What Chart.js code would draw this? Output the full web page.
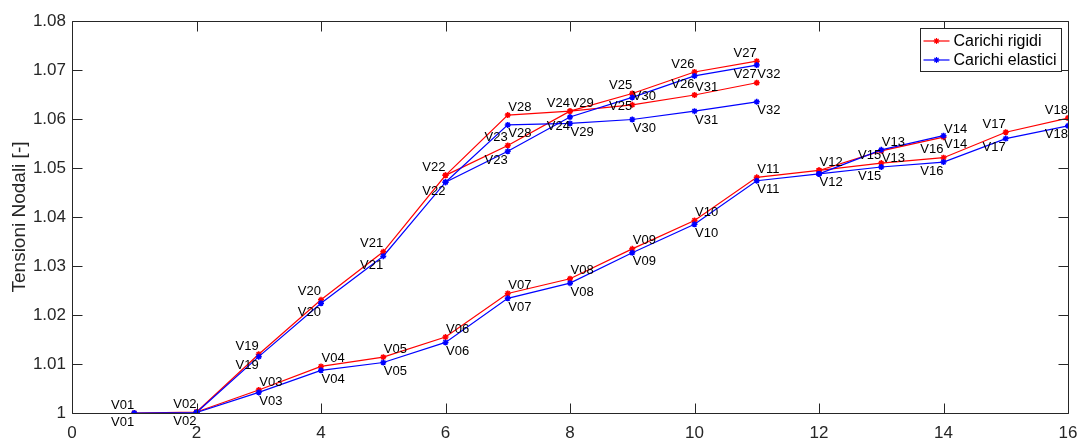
<!DOCTYPE html>
<html>
<head>
<meta charset="utf-8">
<script src="https://cdn.jsdelivr.net/npm/chart.js@4"></script>
<style>
  html, body { margin: 0; padding: 0; background: #fff; }
  canvas { display: block; }
</style>
</head>
<body>
<canvas id="tensioni" width="1079" height="439"></canvas>
<script>
// nodi della rete
var nodeNames = ['V01','V02','V03','V04','V05','V06','V07','V08','V09','V10',
                 'V11','V12','V13','V14','V15','V16','V17','V18','V19','V20',
                 'V21','V22','V23','V24','V25','V26','V27','V28','V29','V30',
                 'V31','V32'];
// posizione lungo la linea (asse x)
var nodeX = [1, 2, 3, 4, 5, 6, 7, 8, 9, 10,
             11, 12, 13, 14, 13, 14, 15, 16, 3, 4,
             5, 6, 7, 8, 9, 10, 11, 7, 8, 9,
             10, 11];
// tensioni nodali [p.u.]
var vRigidi = [1.0000, 1.0002, 1.0047, 1.0095, 1.0114, 1.0155, 1.0244, 1.0274, 1.0335, 1.0393,
               1.0481, 1.0495, 1.0535, 1.0563, 1.0510, 1.0521, 1.0573, 1.0602, 1.0120, 1.0231,
               1.0329, 1.0485, 1.0546, 1.0616, 1.0652, 1.0696, 1.0718, 1.0608, 1.0616, 1.0629,
               1.0649, 1.0674];
var vElastici = [1.0000, 1.0001, 1.0042, 1.0087, 1.0103, 1.0144, 1.0234, 1.0265, 1.0327, 1.0385,
                 1.0474, 1.0488, 1.0537, 1.0566, 1.0502, 1.0512, 1.0560, 1.0586, 1.0115, 1.0224,
                 1.0320, 1.0471, 1.0534, 1.0604, 1.0644, 1.0688, 1.0710, 1.0588, 1.0591, 1.0599,
                 1.0616, 1.0635];
// rami (indici dei nodi, base 1)
var branches = [
  [1, 2, 3, 4, 5, 6, 7, 8, 9, 10, 11, 12],
  [12, 13, 14],
  [12, 15, 16, 17, 18],
  [2, 19, 20, 21, 22, 23, 24, 25, 26, 27],
  [22, 28, 29, 30, 31, 32]
];
var seriesNames = ['Carichi rigidi', 'Carichi elastici'];
var xTicks = [0, 2, 4, 6, 8, 10, 12, 14, 16];

var FONT = '"Liberation Sans", Arial, Helvetica, sans-serif';
var AXIS_COLOR = '#262626';
var RED = '#ff0000';
var BLUE = '#0000ff';

// etichette allineate a destra del punto (le altre partono dal punto)
var labelRightOf = {};
['V01','V02','V15','V16','V17','V18','V19','V20','V21','V22','V23','V24','V25','V26','V27']
  .forEach(function (n) { labelRightOf[n] = true; });

function branchData(branch, values) {
  return branch.map(function (n) {
    return { x: nodeX[n - 1], y: values[n - 1] };
  });
}

var datasets = [];
[vRigidi, vElastici].forEach(function (values, s) {
  branches.forEach(function (br) {
    datasets.push({
      label: seriesNames[s],
      data: branchData(br, values),
      borderColor: s === 0 ? RED : BLUE,
      backgroundColor: s === 0 ? RED : BLUE,
      borderWidth: 1.2,
      pointStyle: 'star',
      pointRadius: 3,
      pointBorderWidth: 1.5,
      tension: 0,
      order: s === 0 ? 1 : 0
    });
  });
});

// assi stile matlab: box + tacche interne
var matlabAxes = {
  id: 'matlabAxes',
  afterDatasetsDraw: function (chart) {
    var ctx = chart.ctx, a = chart.chartArea;
    var xs = chart.scales.x, ys = chart.scales.y;
    var L = Math.round(a.left) + 0.5, R = Math.round(a.right) + 0.5;
    var T = Math.round(a.top) + 0.5, B = Math.round(a.bottom) + 0.5;
    ctx.save();
    ctx.strokeStyle = AXIS_COLOR;
    ctx.lineWidth = 1;
    ctx.beginPath();
    ctx.rect(L, T, R - L, B - T);
    xs.ticks.forEach(function (t) {
      var px = Math.round(xs.getPixelForValue(t.value)) + 0.5;
      ctx.moveTo(px, B); ctx.lineTo(px, B - 10);
      ctx.moveTo(px, T); ctx.lineTo(px, T + 10);
    });
    ys.ticks.forEach(function (t) {
      var py = Math.round(ys.getPixelForValue(t.value)) + 0.5;
      ctx.moveTo(L, py); ctx.lineTo(L + 10, py);
      ctx.moveTo(R, py); ctx.lineTo(R - 10, py);
    });
    ctx.stroke();
    ctx.restore();
  }
};

// etichette dei nodi: rosse sopra, blu sotto
var nodeLabels = {
  id: 'nodeLabels',
  afterDatasetsDraw: function (chart) {
    var ctx = chart.ctx;
    var xs = chart.scales.x, ys = chart.scales.y;
    ctx.save();
    ctx.font = '13px ' + FONT;
    ctx.fillStyle = '#000';
    ctx.textBaseline = 'middle';
    nodeNames.forEach(function (name, i) {
      var px = xs.getPixelForValue(nodeX[i]);
      var right = labelRightOf[name];
      ctx.textAlign = right ? 'right' : 'left';
      var tx = right ? px : px + 0.5;
      ctx.fillText(name, tx, ys.getPixelForValue(vRigidi[i]) - 8);
      ctx.fillText(name, tx, ys.getPixelForValue(vElastici[i]) + 9);
    });
    ctx.restore();
  }
};

var matlabLegend = {
  id: 'matlabLegend',
  afterDraw: function (chart) {
    var ctx = chart.ctx, a = chart.chartArea;
    var w = 141, h = 43;
    var x0 = Math.round(a.right - 7 - w) + 0.5, y0 = Math.round(a.top + 7) + 0.5;
    ctx.save();
    ctx.fillStyle = '#fff';
    ctx.strokeStyle = AXIS_COLOR;
    ctx.lineWidth = 1;
    ctx.fillRect(x0, y0, w, h);
    ctx.strokeRect(x0, y0, w, h);
    ctx.font = '16px ' + FONT;
    ctx.textBaseline = 'middle';
    ctx.textAlign = 'left';
    [RED, BLUE].forEach(function (col, k) {
      var cy = y0 + 12.5 + k * 19;
      ctx.strokeStyle = col;
      ctx.fillStyle = col;
      ctx.lineWidth = 1.2;
      ctx.beginPath();
      ctx.moveTo(x0 + 3, cy); ctx.lineTo(x0 + 29, cy);
      ctx.stroke();
      Chart.helpers.drawPoint(ctx, { pointStyle: 'star', radius: 3, borderWidth: 1.5 }, x0 + 16, cy);
      ctx.fillStyle = '#000';
      ctx.fillText(seriesNames[k], x0 + 33, cy + 0.5);
    });
    ctx.restore();
  }
};

var chart = new Chart(document.getElementById('tensioni').getContext('2d'), {
  type: 'line',
  data: { datasets: datasets },
  options: {
    responsive: false,
    animation: false,
    layout: { padding: { top: 21, right: 11, left: 0, bottom: 0 } },
    plugins: {
      legend: { display: false },
      tooltip: { enabled: false }
    },
    scales: {
      x: {
        type: 'linear',
        min: 0,
        max: 16,
        afterBuildTicks: function (scale) {
          scale.ticks = xTicks.map(function (v) { return { value: v }; });
        },
        afterFit: function (scale) {
          scale.height = 26;
          scale.paddingLeft = 0;
          scale.paddingRight = 0;
        },
        grid: { display: false, drawTicks: false },
        border: { display: false },
        ticks: {
          padding: 10,
          maxRotation: 0,
          color: AXIS_COLOR,
          font: { family: FONT, size: 17 }
        }
      },
      y: {
        type: 'linear',
        min: 1,
        max: 1.08,
        afterFit: function (scale) {
          scale.width = 72;
          scale.paddingTop = 0;
          scale.paddingBottom = 0;
        },
        grid: { display: false, drawTicks: false },
        border: { display: false },
        title: {
          display: true,
          text: 'Tensioni Nodali [-]',
          color: AXIS_COLOR,
          padding: { top: 8, bottom: 0 },
          font: { family: FONT, size: 19 }
        },
        ticks: {
          stepSize: 0.01,
          padding: 6,
          color: AXIS_COLOR,
          font: { family: FONT, size: 17 },
          callback: function (v) { return String(+v.toFixed(2)); }
        }
      }
    }
  },
  plugins: [matlabAxes, nodeLabels, matlabLegend]
});
</script>
</body>
</html>
